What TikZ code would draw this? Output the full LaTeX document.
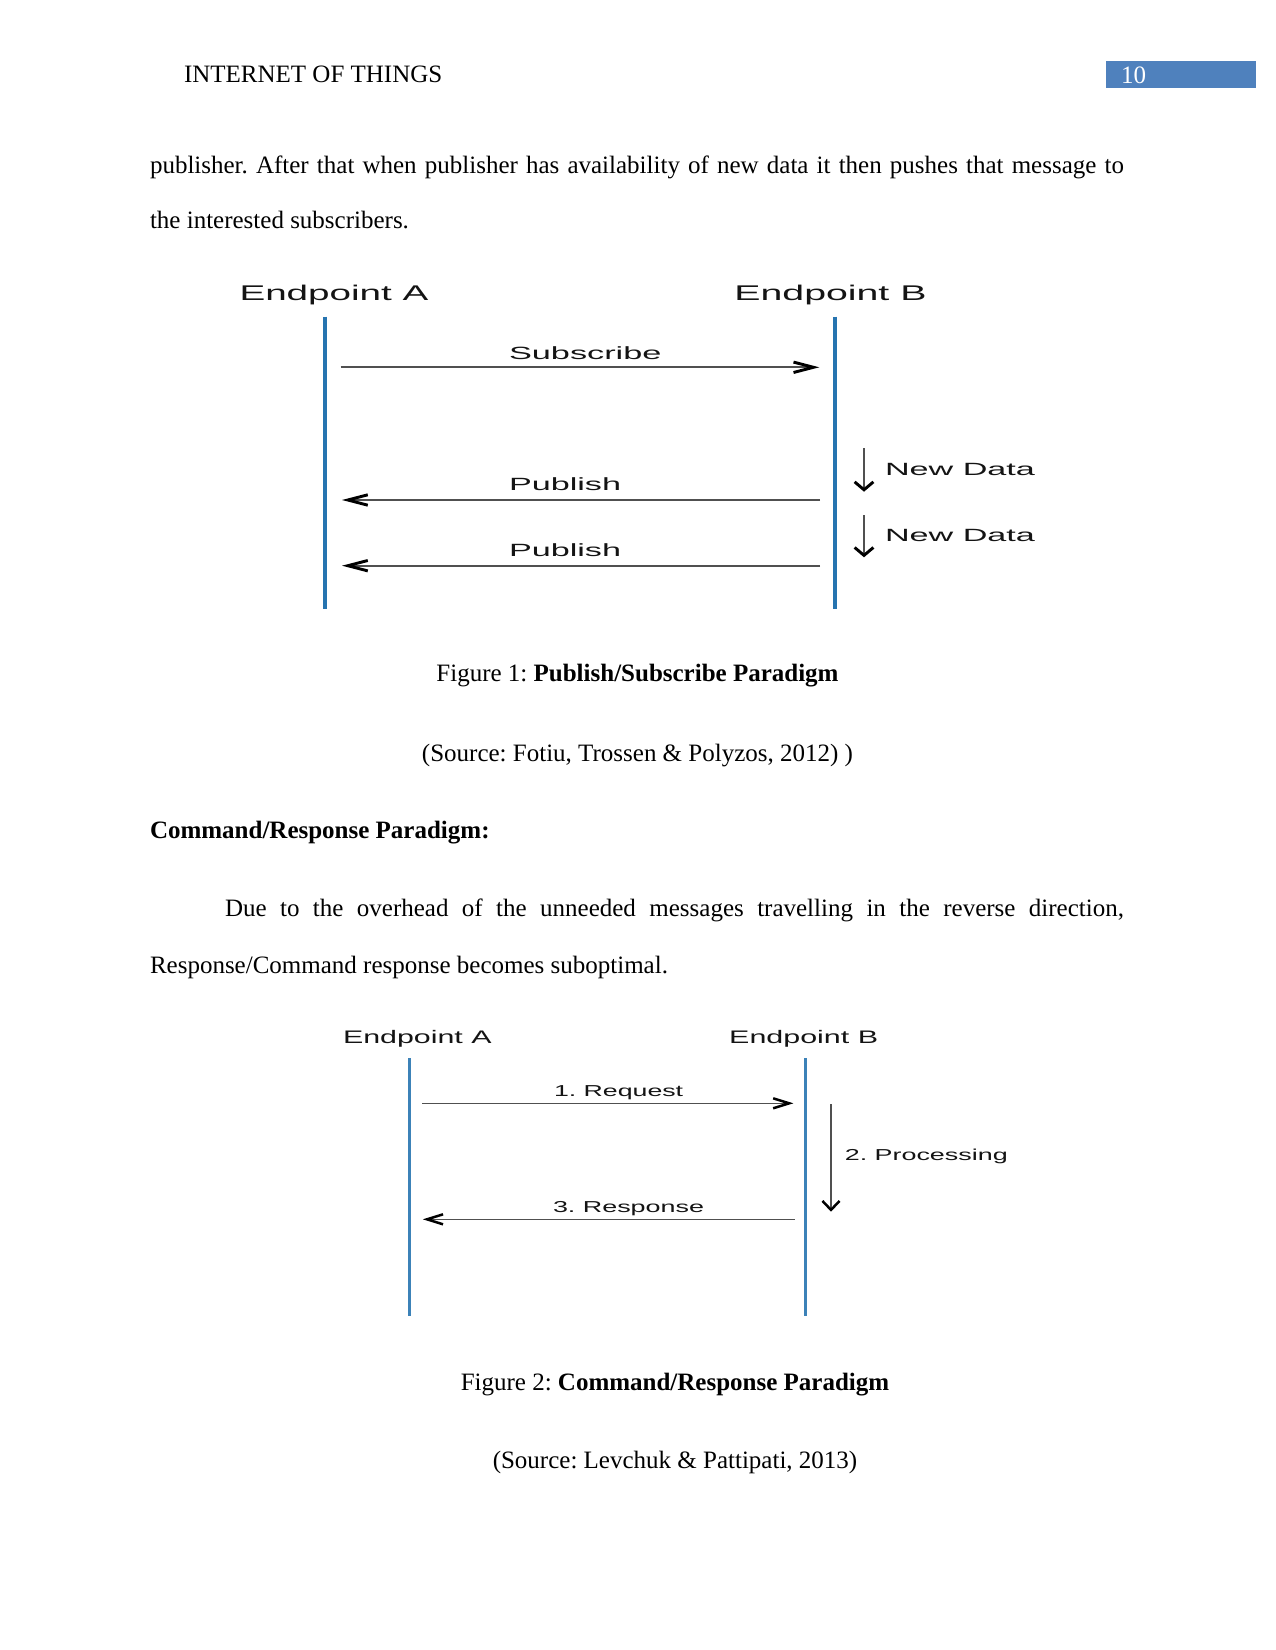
\documentclass[tikz,border=0pt]{standalone}
\usepackage{fontspec}
\usepackage{graphicx}
\setmainfont{Liberation Serif}
\newfontfamily\arialf{Liberation Sans}
\usetikzlibrary{arrows.meta}
\definecolor{hdrblue}{RGB}{79,129,189}
\definecolor{lifeblue}{RGB}{38,116,176}
\definecolor{msggray}{RGB}{80,80,80}
\definecolor{lbltext}{RGB}{20,20,20}
\newcommand{\hs}[2]{\resizebox{#1}{\height}{#2}}
\frenchspacing
\begin{document}
\begin{tikzpicture}[x=0.48pt,y=-0.48pt,
  pagetext/.style={inner sep=0pt,outer sep=0pt,font=\fontsize{12}{14}\selectfont,anchor=base west},
  capt/.style={inner sep=0pt,outer sep=0pt,font=\fontsize{12}{14}\selectfont,anchor=base},
  epA/.style={inner sep=0pt,outer sep=0pt,anchor=base west,text=lbltext,font=\arialf\fontsize{10.2}{12}\selectfont},
  lblA/.style={inner sep=0pt,outer sep=0pt,anchor=base west,text=lbltext,font=\arialf\fontsize{8.5}{10}\selectfont},
  epB/.style={inner sep=0pt,outer sep=0pt,anchor=base west,text=lbltext,font=\arialf\fontsize{8.7}{10}\selectfont},
  lblB/.style={inner sep=0pt,outer sep=0pt,anchor=base west,text=lbltext,font=\arialf\fontsize{7.6}{9}\selectfont},
  lifeA/.style={draw=lifeblue,line width=1.9pt},
  lifeB/.style={draw=lifeblue!90!white,line width=1.5pt},
  hmsgA/.style={draw=msggray,line width=0.8pt,-{Straight Barb[length=9.6pt,width=5pt,line width=1.4pt,color=black]}},
  vmsgA/.style={draw=msggray,line width=0.8pt,-{Straight Barb[length=3.8pt,width=9pt,line width=1.4pt,color=black]}},
  hmsgB/.style={draw=msggray,line width=0.7pt,-{Straight Barb[length=7.7pt,width=4.8pt,line width=1.2pt,color=black]}},
  vmsgB/.style={draw=msggray,line width=0.7pt,-{Straight Barb[length=4.3pt,width=8.2pt,line width=1.2pt,color=black]}}
]
\useasboundingbox[fill=white] (0,0) rectangle (1275,1650);

% header
\node[pagetext] (hdr) at (184,82.7) {INTERNET OF THINGS};
\fill[hdrblue] (1106,61) rectangle (1255.5,88.3);
\node[pagetext,text=white] (pnum) at (1121,83.3) {10};

% body text
\node[pagetext] (l1) at (150,173.5) {\makebox[467.5pt][s]{publisher. After that when publisher has availability of new data it then pushes that message to}};
\node[pagetext] (l2) at (150,229) {the interested subscribers.};

% ---------- Diagram 1 ----------
\node[epA] (d1a) at (239.5,301) {\hs{90.7pt}{Endpoint A}};
\node[epA] (d1b) at (734.4,301) {\hs{92.2pt}{Endpoint B}};
\coordinate (a1t) at (325,316.7); \coordinate (a1b) at (325,609);
\coordinate (b1t) at (835,316.7); \coordinate (b1b) at (835,609);
\draw[lifeA] (a1t) -- (a1b);
\draw[lifeA] (b1t) -- (b1b);

\coordinate (s1) at (340.7,367.3); \coordinate (s2) at (819.3,367.3);
\draw[hmsgA] (s1) -- (s2);
\node[lblA] (subl) at (509,359.3) {\hs{73.2pt}{Subscribe}};

\coordinate (p1s) at (820,500); \coordinate (p1e) at (342,500);
\draw[hmsgA] (p1s) -- (p1e);
\node[lblA] (pub1) at (509,490) {\hs{53.8pt}{Publish}};

\coordinate (p2s) at (820,565.7); \coordinate (p2e) at (342,565.7);
\draw[hmsgA] (p2s) -- (p2e);
\node[lblA] (pub2) at (509,556) {\hs{53.8pt}{Publish}};

\coordinate (n1s) at (864,448.3); \coordinate (n1e) at (864,491.7);
\draw[vmsgA] (n1s) -- (n1e);
\node[lblA] (nd1) at (885,476) {\hs{72pt}{New Data}};
\coordinate (n2s) at (864,515); \coordinate (n2e) at (864,557.3);
\draw[vmsgA] (n2s) -- (n2e);
\node[lblA] (nd2) at (885,541.7) {\hs{72pt}{New Data}};

% captions 1
\node[capt] (cap1) at (637.5,681.7) {Figure 1: \textbf{Publish/Subscribe Paradigm}};
\node[capt] (src1) at (637.5,761) {(Source: Fotiu, Trossen \& Polyzos, 2012) )};

\node[pagetext] (hd2) at (150,838.3) {\textbf{Command/Response Paradigm:}};
\node[pagetext] (l3) at (225,916.7) {\makebox[431.5pt][s]{Due to the overhead of the unneeded messages travelling in the reverse direction,}};
\node[pagetext] (l4) at (150,973.3) {Response/Command response becomes suboptimal.};

% ---------- Diagram 2 ----------
\node[epB] (d2a) at (343,1043.3) {\hs{71.3pt}{Endpoint A}};
\node[epB] (d2b) at (729.2,1043.3) {\hs{71.5pt}{Endpoint B}};
\coordinate (a2t) at (409.5,1058.3); \coordinate (a2b) at (409.5,1316);
\coordinate (b2t) at (805.8,1058.3); \coordinate (b2b) at (805.8,1316);
\draw[lifeB] (a2t) -- (a2b);
\draw[lifeB] (b2t) -- (b2b);

\coordinate (r1) at (422,1103.3); \coordinate (r2) at (793.4,1103.3);
\draw[hmsgB] (r1) -- (r2);
\node[lblB] (req) at (554,1096) {\hs{62pt}{1. Request}};

\coordinate (pr1) at (831,1104); \coordinate (pr2) at (831,1211.7);
\draw[vmsgB] (pr1) -- (pr2);
\node[lblB] (proc) at (844.8,1160.7) {\hs{78.2pt}{2. Processing}};

\coordinate (rs1) at (794.8,1219.3); \coordinate (rs2) at (422.8,1219.3);
\draw[hmsgB] (rs1) -- (rs2);
\node[lblB] (resp) at (553,1212.3) {\hs{72.5pt}{3. Response}};

% captions 2
\node[capt] (cap2) at (675,1390) {Figure 2: \textbf{Command/Response Paradigm}};
\node[capt] (src2) at (675,1468) {(Source: Levchuk \& Pattipati, 2013)};
\end{tikzpicture}
\end{document}
